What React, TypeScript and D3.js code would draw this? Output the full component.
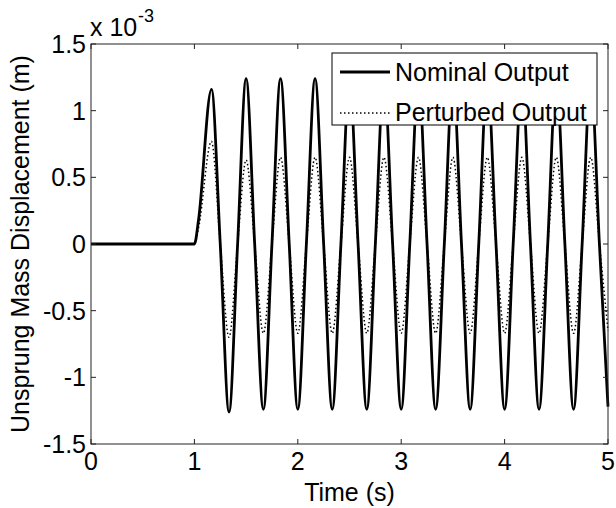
import React from 'react';
import * as d3 from 'd3';

// tick values
const xTicks = [0, 1, 2, 3, 4, 5];
const yTicks = [-1.5, -1, -0.5, 0, 0.5, 1, 1.5];
const yTickLabels = ['-1.5', '-1', '-0.5', '0', '0.5', '1', '1.5'];

// displacement (x 1e-3 m): start, zero crossings and extrema
const nominal: [number, number][] = [
  [0, 0], [1.0, 0], [1.04, 0.18], [1.165, 1.16], [1.25, 0], [1.335, -1.26],
  [1.418, 0], [1.5, 1.24], [1.583, 0], [1.667, -1.24], [1.75, 0], [1.833, 1.24],
  [1.917, 0], [2.0, -1.24], [2.083, 0], [2.167, 1.24], [2.25, 0], [2.333, -1.24],
  [2.417, 0], [2.5, 1.24], [2.583, 0], [2.667, -1.24], [2.75, 0], [2.833, 1.24],
  [2.917, 0], [3.0, -1.24], [3.083, 0], [3.167, 1.24], [3.25, 0], [3.333, -1.24],
  [3.417, 0], [3.5, 1.24], [3.583, 0], [3.667, -1.24], [3.75, 0], [3.833, 1.24],
  [3.917, 0], [4.0, -1.24], [4.083, 0], [4.167, 1.24], [4.25, 0], [4.333, -1.24],
  [4.417, 0], [4.5, 1.24], [4.583, 0], [4.667, -1.24], [4.75, 0], [4.833, 1.24],
  [4.917, 0], [5.0, -1.22],
];

const perturbed: [number, number][] = [
  [0, 0], [1.0, 0], [1.04, 0.12], [1.165, 0.77], [1.25, 0], [1.335, -0.7],
  [1.418, 0], [1.5, 0.63], [1.583, 0], [1.667, -0.67], [1.75, 0], [1.833, 0.65],
  [1.917, 0], [2.0, -0.67], [2.083, 0], [2.167, 0.65], [2.25, 0], [2.333, -0.67],
  [2.417, 0], [2.5, 0.65], [2.583, 0], [2.667, -0.67], [2.75, 0], [2.833, 0.65],
  [2.917, 0], [3.0, -0.67], [3.083, 0], [3.167, 0.65], [3.25, 0], [3.333, -0.67],
  [3.417, 0], [3.5, 0.65], [3.583, 0], [3.667, -0.67], [3.75, 0], [3.833, 0.65],
  [3.917, 0], [4.0, -0.67], [4.083, 0], [4.167, 0.65], [4.25, 0], [4.333, -0.67],
  [4.417, 0], [4.5, 0.65], [4.583, 0], [4.667, -0.67], [4.75, 0], [4.833, 0.65],
  [4.917, 0], [5.0, -0.65],
];

const seriesNames = ['Nominal Output', 'Perturbed Output'];

const W = 616;
const H = 508;
const FONT = '"Liberation Sans", Arial, Helvetica, sans-serif';

export default function App() {
  const left = 91, right = 608, top = 44, bottom = 444;
  const x = d3.scaleLinear().domain([0, 5]).range([left, right]);
  const y = d3.scaleLinear().domain([-1.5, 1.5]).range([bottom, top]);
  const line = d3.line<[number, number]>()
    .x(d => x(d[0]))
    .y(d => y(d[1]))
    .curve(d3.curveMonotoneX);

  const tick = 5;
  const fs = 25;
  const dots = '1.5,2.5';

  return (
    <svg width={W} height={H} style={{ position: 'absolute', left: 0, top: 0, background: '#fff' }}
      fontFamily={FONT}>
      <rect x={0} y={0} width={W} height={H} fill="#fff" />

      {/* curves */}
      <path d={line(nominal) ?? ''} fill="none" stroke="#000" strokeWidth={2.8} />
      <path d={line(perturbed) ?? ''} fill="none" stroke="#000" strokeWidth={1.5} strokeDasharray={dots} />

      {/* box + ticks */}
      <rect x={left} y={top} width={right - left} height={bottom - top} fill="none" stroke="#222" strokeWidth={1} />
      {xTicks.map(t => (
        <g key={'x' + t}>
          <line x1={x(t)} x2={x(t)} y1={bottom} y2={bottom - tick} stroke="#222" />
          <line x1={x(t)} x2={x(t)} y1={top} y2={top + tick} stroke="#222" />
          <text x={x(t)} y={bottom + 26} textAnchor="middle" fontSize={fs}>{t}</text>
        </g>
      ))}
      {yTicks.map((v, i) => (
        <g key={'y' + v}>
          <line x1={left} x2={left + tick} y1={y(v)} y2={y(v)} stroke="#222" />
          <line x1={right} x2={right - tick} y1={y(v)} y2={y(v)} stroke="#222" />
          <text x={86} y={y(v) + 9} textAnchor="end" fontSize={fs}>{yTickLabels[i]}</text>
        </g>
      ))}

      {/* exponent */}
      <text x={90} y={36} fontSize={fs}>x 10</text>
      <text x={138} y={22} fontSize={18}>-3</text>

      {/* axis labels */}
      <text x={(left + right) / 2} y={501} textAnchor="middle" fontSize={fs}>Time (s)</text>
      <text transform={`translate(29,${(top + bottom) / 2}) rotate(-90)`} textAnchor="middle" fontSize={fs}>
        Unsprung Mass Displacement (m)
      </text>

      {/* legend */}
      <rect x={332} y={53} width={265} height={72} fill="#fff" stroke="#000" strokeWidth={1} />
      <line x1={340} x2={390} y1={72} y2={72} stroke="#000" strokeWidth={2.8} />
      <line x1={340} x2={390} y1={113} y2={113} stroke="#000" strokeWidth={1.5} strokeDasharray={dots} />
      <text x={395} y={81} fontSize={fs}>{seriesNames[0]}</text>
      <text x={395} y={121} fontSize={fs}>{seriesNames[1]}</text>
    </svg>
  );
}
